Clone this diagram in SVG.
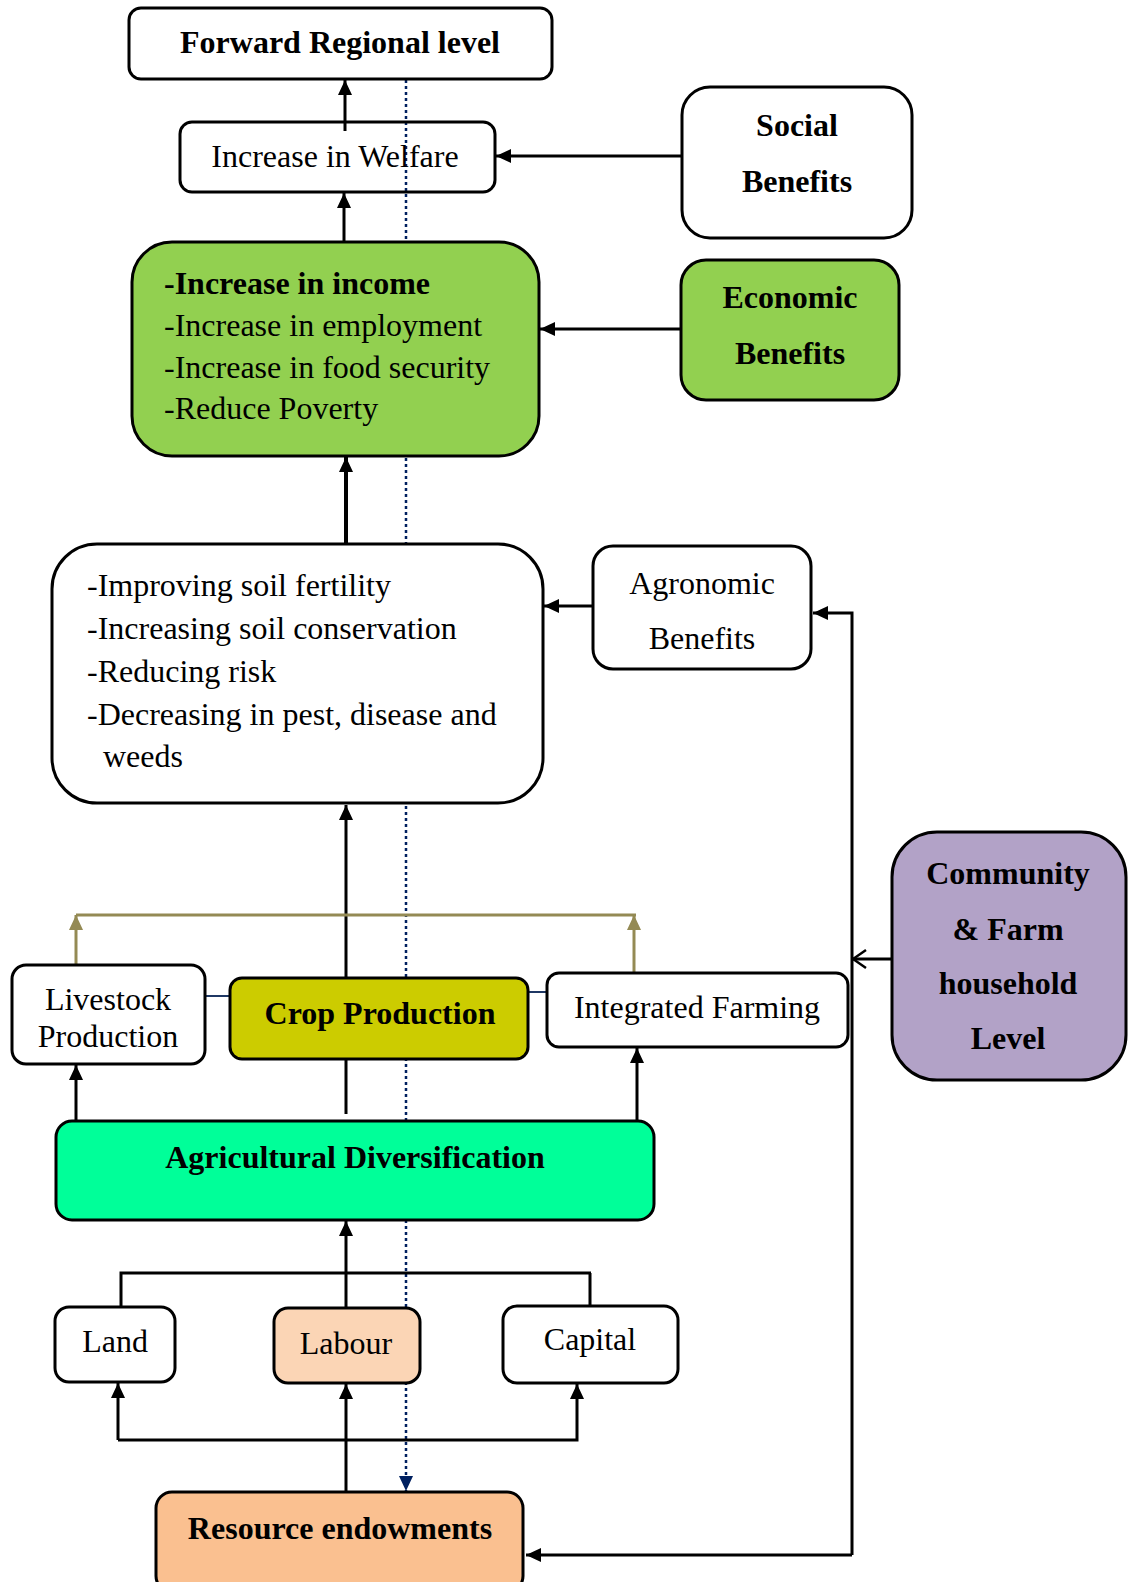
<svg xmlns="http://www.w3.org/2000/svg" width="1130" height="1582" viewBox="0 0 1130 1582">
<style>
.box{stroke:#000;stroke-width:3}
.t{font-family:"Liberation Serif","Times New Roman",serif;font-size:32px;fill:#000}
.b{font-weight:bold}
.m{text-anchor:middle}
.c{fill:none;stroke:#000;stroke-width:3}
.olive{fill:none;stroke:#948A54;stroke-width:3}
.blue{fill:none;stroke:#1F3864;stroke-width:2}
</style>
<defs>
<marker id="ah" markerUnits="userSpaceOnUse" markerWidth="15" markerHeight="14" refX="15" refY="7" orient="auto" viewBox="0 0 15 14">
<path d="M0,0 L15,7 L0,14 z" fill="#000"/>
</marker>
<marker id="ao" markerUnits="userSpaceOnUse" markerWidth="15" markerHeight="14" refX="15" refY="7" orient="auto" viewBox="0 0 15 14">
<path d="M0,0 L15,7 L0,14 z" fill="#948A54"/>
</marker>
<marker id="an" markerUnits="userSpaceOnUse" markerWidth="15" markerHeight="14" refX="15" refY="7" orient="auto" viewBox="0 0 15 14">
<path d="M0,0 L15,7 L0,14 z" fill="#002060"/>
</marker>
<marker id="av" markerUnits="userSpaceOnUse" markerWidth="16" markerHeight="22" refX="15" refY="11" orient="auto" viewBox="0 0 16 22">
<path d="M2,2 L15,11 L2,20" fill="none" stroke="#000" stroke-width="2.5"/>
</marker>
</defs>

<g id="connectors">
<line x1="406" y1="80" x2="406" y2="1491" stroke="#002060" stroke-width="2.5" stroke-dasharray="3 3" marker-end="url(#an)"/>
<line class="c" x1="345" y1="131" x2="345" y2="80" marker-end="url(#ah)"/>
<line class="c" x1="344" y1="242" x2="344" y2="193" marker-end="url(#ah)"/>
<line class="c" x1="682" y1="156" x2="496" y2="156" marker-end="url(#ah)"/>
<line class="c" x1="681" y1="329" x2="540" y2="329" marker-end="url(#ah)"/>
<line class="c" style="stroke-width:4" x1="346" y1="544" x2="346" y2="457" marker-end="url(#ah)"/>
<line class="c" x1="593" y1="606" x2="544" y2="606" marker-end="url(#ah)"/>
<polyline class="c" points="852,1555 852,613 813,613" marker-end="url(#ah)"/>
<line class="c" x1="852" y1="1555" x2="526" y2="1555" marker-end="url(#ah)"/>
<line class="c" x1="899" y1="959" x2="853" y2="959" marker-end="url(#av)"/>
<line class="c" x1="346" y1="1114" x2="346" y2="805" marker-end="url(#ah)"/>
<line class="olive" x1="76" y1="915" x2="636" y2="915"/>
<line class="olive" x1="76" y1="966" x2="76" y2="915" marker-end="url(#ao)"/>
<line class="olive" x1="634" y1="972" x2="634" y2="915" marker-end="url(#ao)"/>
<line class="blue" x1="205" y1="996" x2="230" y2="996"/>
<line class="blue" x1="528" y1="992" x2="548" y2="992"/>
<line class="c" x1="76" y1="1121" x2="76" y2="1065" marker-end="url(#ah)"/>
<line class="c" x1="637" y1="1121" x2="637" y2="1048" marker-end="url(#ah)"/>
<line class="c" x1="346" y1="1308" x2="346" y2="1221" marker-end="url(#ah)"/>
<polyline class="c" points="121,1307 121,1273 591,1273 590,1273 590,1306"/>
<polyline class="c" points="118,1440 118,1383" marker-end="url(#ah)"/>
<polyline class="c" points="118,1440 577,1440 577,1384" marker-end="url(#ah)"/>
<line class="c" x1="346" y1="1492" x2="346" y2="1384" marker-end="url(#ah)"/>
</g>

<g id="forward">
<rect class="box" x="129" y="8" width="423" height="71" rx="12" fill="#fff"/>
<text class="t b m" x="340" y="53">Forward Regional level</text>
</g>
<g id="welfare">
<rect class="box" x="180" y="122" width="315" height="70" rx="12" fill="none"/>
<text class="t m" x="335" y="167">Increase in Welfare</text>
</g>
<g id="social">
<rect class="box" x="682" y="87" width="230" height="151" rx="28" fill="#fff"/>
<text class="t b m" x="797" y="136">Social</text>
<text class="t b m" x="797" y="192">Benefits</text>
</g>
<g id="income">
<rect class="box" x="132" y="242" width="407" height="214" rx="40" fill="#92D050"/>
<text class="t b" x="164" y="294">-Increase in income</text>
<text class="t" x="164" y="336">-Increase in employment</text>
<text class="t" x="164" y="378">-Increase in food security</text>
<text class="t" x="164" y="419">-Reduce Poverty</text>
</g>
<g id="economic">
<rect class="box" x="681" y="260" width="218" height="140" rx="25" fill="#92D050"/>
<text class="t b m" x="790" y="308">Economic</text>
<text class="t b m" x="790" y="364">Benefits</text>
</g>
<g id="soil">
<rect class="box" x="52" y="544" width="491" height="259" rx="45" fill="#fff"/>
<text class="t" x="87" y="596">-Improving soil fertility</text>
<text class="t" x="87" y="639">-Increasing soil conservation</text>
<text class="t" x="87" y="682">-Reducing risk</text>
<text class="t" x="87" y="725">-Decreasing in pest, disease and</text>
<text class="t" x="103" y="767">weeds</text>
</g>
<g id="agronomic">
<rect class="box" x="593" y="546" width="218" height="123" rx="20" fill="#fff"/>
<text class="t m" x="702" y="594">Agronomic</text>
<text class="t m" x="702" y="649">Benefits</text>
</g>
<g id="community">
<rect class="box" x="892" y="832" width="234" height="248" rx="45" fill="#B2A2C7"/>
<text class="t b m" x="1008" y="884">Community</text>
<text class="t b m" x="1008" y="940">&amp; Farm</text>
<text class="t b m" x="1008" y="994">household</text>
<text class="t b m" x="1008" y="1049">Level</text>
</g>
<g id="livestock">
<rect class="box" x="12" y="965" width="193" height="99" rx="14" fill="#fff"/>
<text class="t m" x="108" y="1010">Livestock</text>
<text class="t m" x="108" y="1047">Production</text>
</g>
<g id="crop">
<rect class="box" x="230" y="978" width="298" height="81" rx="12" fill="#CCCC00"/>
<text class="t b m" x="380" y="1024">Crop Production</text>
</g>
<g id="integrated">
<rect class="box" x="547" y="973" width="301" height="74" rx="12" fill="#fff"/>
<text class="t m" x="697" y="1018">Integrated Farming</text>
</g>
<g id="agdiv">
<rect class="box" x="56" y="1121" width="598" height="99" rx="16" fill="#00FF99"/>
<text class="t b m" x="355" y="1168">Agricultural Diversification</text>
</g>
<g id="land">
<rect class="box" x="55" y="1307" width="120" height="75" rx="14" fill="#fff"/>
<text class="t m" x="115" y="1352">Land</text>
</g>
<g id="labour">
<rect class="box" x="274" y="1308" width="146" height="75" rx="14" fill="#FBD5B5"/>
<text class="t m" x="346" y="1354">Labour</text>
</g>
<g id="capital">
<rect class="box" x="503" y="1306" width="175" height="77" rx="14" fill="#fff"/>
<text class="t m" x="590" y="1350">Capital</text>
</g>
<g id="resource">
<rect class="box" x="156" y="1492" width="367" height="100" rx="16" fill="#FAC090"/>
<text class="t b m" x="340" y="1539">Resource endowments</text>
</g>
</svg>
